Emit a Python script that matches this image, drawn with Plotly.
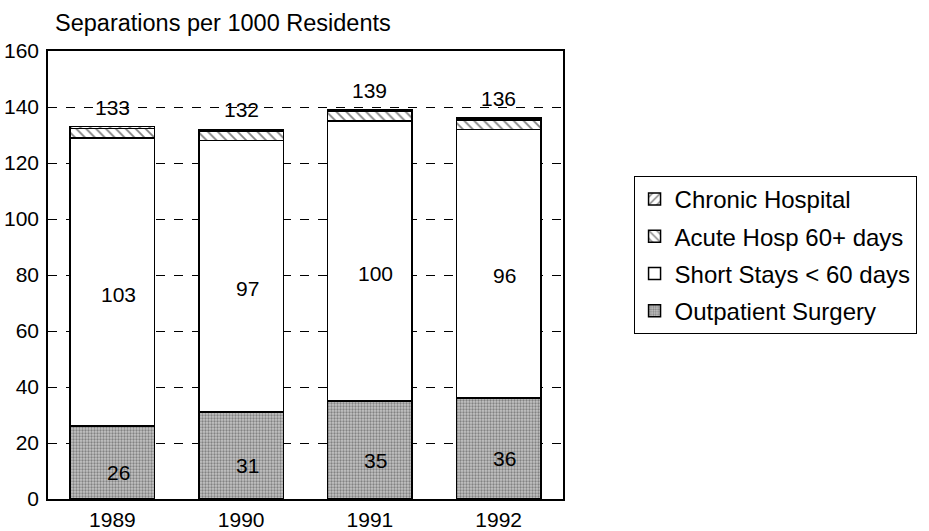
import plotly.graph_objects as go

# Datos
years = ['1989', '1990', '1991', '1992']
outpatient = [26, 31, 35, 36]
short_stays = [103, 97, 100, 96]
acute_60 = [3.4, 3.4, 3.4, 3.4]
chronic = [0.6, 0.6, 0.6, 0.6]
totals = [133, 132, 139, 136]

font_family = 'Liberation Sans, Arial, Helvetica, sans-serif'
line = dict(color='black', width=1.5)

W, H = 929, 531

fig = go.Figure()

# Orden de apilado: de abajo hacia arriba
fig.add_trace(go.Bar(
    x=years, y=outpatient, name='Outpatient Surgery', legendgroup='a', legendrank=4,
    marker=dict(color='#bcbcbc', line=line,
                pattern=dict(shape='.', fgcolor='#404040', bgcolor='#c4c4c4',
                             size=3, solidity=0.45)),
))
fig.add_trace(go.Bar(
    x=years, y=short_stays, name='Short Stays < 60 days', legendgroup='b', legendrank=3,
    marker=dict(color='white', line=line),
))
fig.add_trace(go.Bar(
    x=years, y=acute_60, name='Acute Hosp 60+ days', legendgroup='c', legendrank=2,
    marker=dict(color='white', line=line,
                pattern=dict(shape='\\', fgcolor='black', bgcolor='white',
                             size=7, solidity=0.25)),
))
fig.add_trace(go.Bar(
    x=years, y=chronic, name='Chronic Hospital', legendgroup='d', legendrank=1,
    marker=dict(color='white', line=line,
                pattern=dict(shape='/', fgcolor='black', bgcolor='white',
                             size=7, solidity=0.25)),
))

annotations = []
for i in range(len(years)):
    # total encima de la barra
    annotations.append(dict(x=i, y=totals[i], text=str(totals[i]), showarrow=False,
                            yanchor='bottom', yshift=6, font=dict(size=21)))
    # valor de estancias cortas
    annotations.append(dict(x=i, y=outpatient[i] + short_stays[i] / 2, text=str(short_stays[i]),
                            showarrow=False, xshift=6, yshift=-12, font=dict(size=21)))
    # valor de cirugia ambulatoria
    annotations.append(dict(x=i, y=outpatient[i] / 2, text=str(outpatient[i]),
                            showarrow=False, xshift=6, yshift=-10, font=dict(size=21)))

fig.update_layout(
    width=W, height=H,
    margin=dict(l=48, r=356, t=51, b=32),
    barmode='stack', bargap=0.345,
    plot_bgcolor='white', paper_bgcolor='white',
    font=dict(family=font_family, color='black', size=21),
    title=dict(text='Separations per 1000 Residents', x=55 / W, xanchor='left',
               y=1 - 23 / H, yanchor='middle', yref='container', xref='container',
               pad=dict(l=0, r=0, t=0, b=0), font=dict(size=23.5)),
    legend=dict(x=1.137, y=0.721, xanchor='left', yanchor='top',
                traceorder='grouped', tracegroupgap=3,
                bordercolor='black', borderwidth=1, bgcolor='white',
                font=dict(size=24)),
    annotations=annotations,
)

fig.update_xaxes(type='category', range=[-0.5, 3.5], showline=True, mirror=True,
                 linecolor='black', linewidth=1.5, ticks='', ticklabelstandoff=1,
                 tickfont=dict(size=21), automargin=False)
fig.update_yaxes(range=[0, 160], dtick=20, showline=True, mirror=True,
                 linecolor='black', linewidth=1.5, ticks='', ticklabelstandoff=3,
                 showgrid=True, gridcolor='black', gridwidth=1, griddash='dash',
                 zeroline=False, tickfont=dict(size=21), automargin=False)

# quitar el margen por defecto del body para que la figura empiece en (0, 0)
fig.write_html('out.html', config={'displayModeBar': False},
               post_script="document.body.style.margin='0';")
